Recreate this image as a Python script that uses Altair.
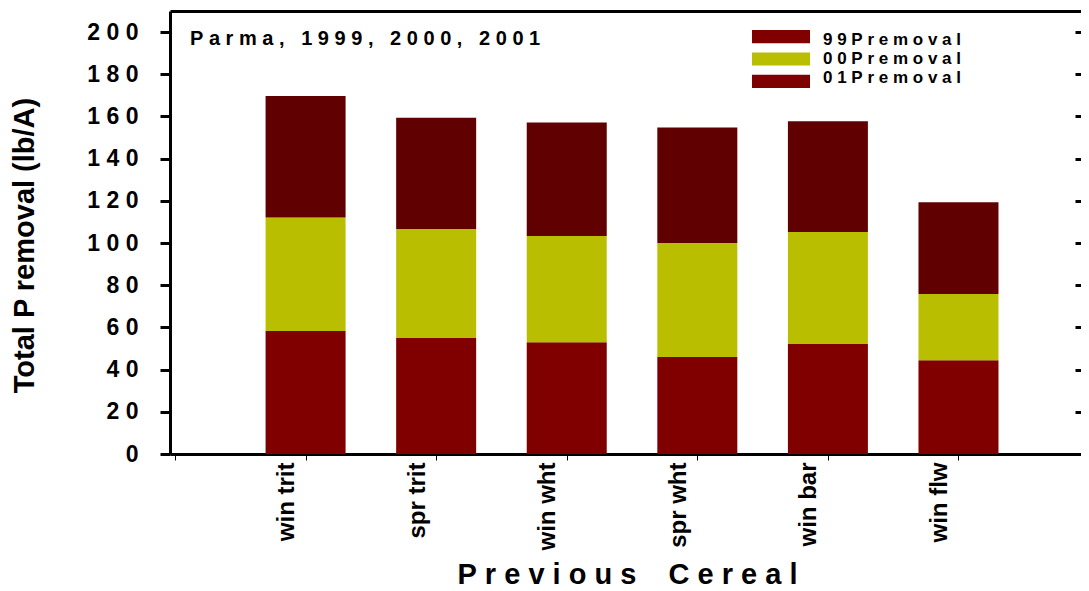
import altair as alt
import pandas as pd

categories = ["win trit", "spr trit", "win wht", "spr wht", "win bar", "win flw"]
series = ["99Premoval", "00Premoval", "01Premoval"]
p99 = [58.3, 55.0, 53.0, 46.0, 52.1, 44.5]
p00 = [53.8, 51.6, 50.3, 54.0, 53.1, 31.3]
p01 = [57.6, 52.8, 53.9, 54.8, 52.5, 43.5]
y_ticks = [0, 20, 40, 60, 80, 100, 120, 140, 160, 180, 200]
x_ticks = [0, 1, 2, 3, 4, 5, 6]
annotation = ["Parma, 1999, 2000, 2001"]
y_title = "Total P removal (lb/A)"
x_title = "Previous Cereal"
bar_colors = ["#800000", "#BABE00", "#600000"]
legend_colors = ["#800000", "#BABE00", "#7F0000"]

FONT = "Liberation Sans"
NB = "\u00a0"

rows = []
for i, cat in enumerate(categories):
    for j, (s, vals) in enumerate(zip(series, [p99, p00, p01])):
        rows.append({"category": cat, "pos": i + 1, "series": s, "order": j, "value": vals[i]})
df = pd.DataFrame(rows)

spaced = "join(split(datum.{f}, ''), '" + NB + "')"
cat_array = "[" + ",".join("'" + c + "'" for c in categories) + "]"
x_title_text = NB.join(x_title).replace(" ", NB + NB)

xscale = alt.Scale(domain=[0, 6.9], nice=False, zero=False)
yscale = alt.Scale(domain=[0, 210], nice=False)

bars = alt.Chart(df).mark_bar(size=80).encode(
    x=alt.X("pos:Q", scale=xscale, axis=alt.Axis(
        orient="bottom", values=x_ticks,
        labelExpr=f"datum.value >= 1 ? {cat_array}[datum.value - 1] : ''",
        labelAngle=270, labelAlign="right", labelBaseline="middle",
        labelFont=FONT, labelFontSize=24, labelFontWeight="bold", labelColor="black",
        labelPadding=2, labelOffset=-19, labelOverlap=False, labelFlush=False,
        domainWidth=3, domainColor="black", tickWidth=1, tickSize=6, tickColor="black",
        grid=False,
        title=x_title_text, titleFont=FONT, titleFontSize=29, titleFontWeight="bold",
        titleColor="black", titleX=457, titleY=129, titleAlign="center",
        titleBaseline="alphabetic", titleAngle=0,
    )),
    y=alt.Y("value:Q", stack="zero", scale=yscale, axis=alt.Axis(
        orient="left", values=y_ticks,
        labelExpr=spaced.format(f="label"),
        labelFont=FONT, labelFontSize=23, labelFontWeight="bold", labelColor="black",
        labelPadding=22, labelFlush=False, labelOverlap=False,
        domainWidth=3, domainColor="black", tickWidth=3, tickSize=10, tickColor="black",
        grid=False,
        title=y_title, titleFont=FONT, titleFontSize=29, titleFontWeight="bold",
        titleColor="black", titleX=-137, titleY=234, titleAlign="center",
        titleBaseline="alphabetic", titleAngle=270,
    )),
    color=alt.Color("series:N", scale=alt.Scale(domain=series, range=bar_colors), legend=None),
    order=alt.Order("order:Q"),
)

frame = alt.Chart(df).mark_bar(size=80, opacity=0).encode(
    x=alt.X("pos:Q", scale=xscale, axis=alt.Axis(
        orient="top", domainWidth=3, domainColor="black", ticks=False, labels=False,
        grid=False, title=None)),
    y=alt.Y("value:Q", stack="zero", scale=yscale, axis=alt.Axis(
        orient="right", offset=-6, values=y_ticks, domain=False, labels=False,
        tickSize=6, tickWidth=3, tickColor="black", grid=False, title=None)),
    order=alt.Order("order:Q"),
)

leg_df = pd.DataFrame({"series": series})
leg_y = alt.Y("series:N", scale=alt.Scale(domain=series, range=[19, 77], paddingInner=0.41,
                                          paddingOuter=0), axis=None)
leg_rect = alt.Chart(leg_df).mark_rect().encode(
    x=alt.value(582), x2=alt.value(640), y=leg_y,
    color=alt.Color("series:N", scale=alt.Scale(domain=series, range=legend_colors), legend=None),
)
leg_text = alt.Chart(leg_df).transform_calculate(
    lab=spaced.format(f="series")
).mark_text(align="left", baseline="middle", font=FONT, fontSize=17, fontWeight="bold",
            color="black").encode(
    x=alt.value(653), y=leg_y, text="lab:N",
)

note = alt.Chart(pd.DataFrame({"t": annotation})).transform_calculate(
    lab=spaced.format(f="t")
).mark_text(align="left", baseline="alphabetic", font=FONT, fontSize=20, fontWeight="bold",
            color="black").encode(
    x=alt.value(20), y=alt.value(34), text="lab:N",
)

chart = alt.layer(bars, frame, leg_rect, leg_text, note).resolve_scale(
    y="independent", color="independent"
).resolve_axis(x="independent", y="independent").properties(
    width=911, height=443,
    padding={"left": 162, "top": 3, "right": 0, "bottom": 137},
    autosize=alt.AutoSizeParams(type="none"),
).configure_view(stroke=None)

chart.save("out.html", embed_options={"renderer": "svg", "actions": False})
